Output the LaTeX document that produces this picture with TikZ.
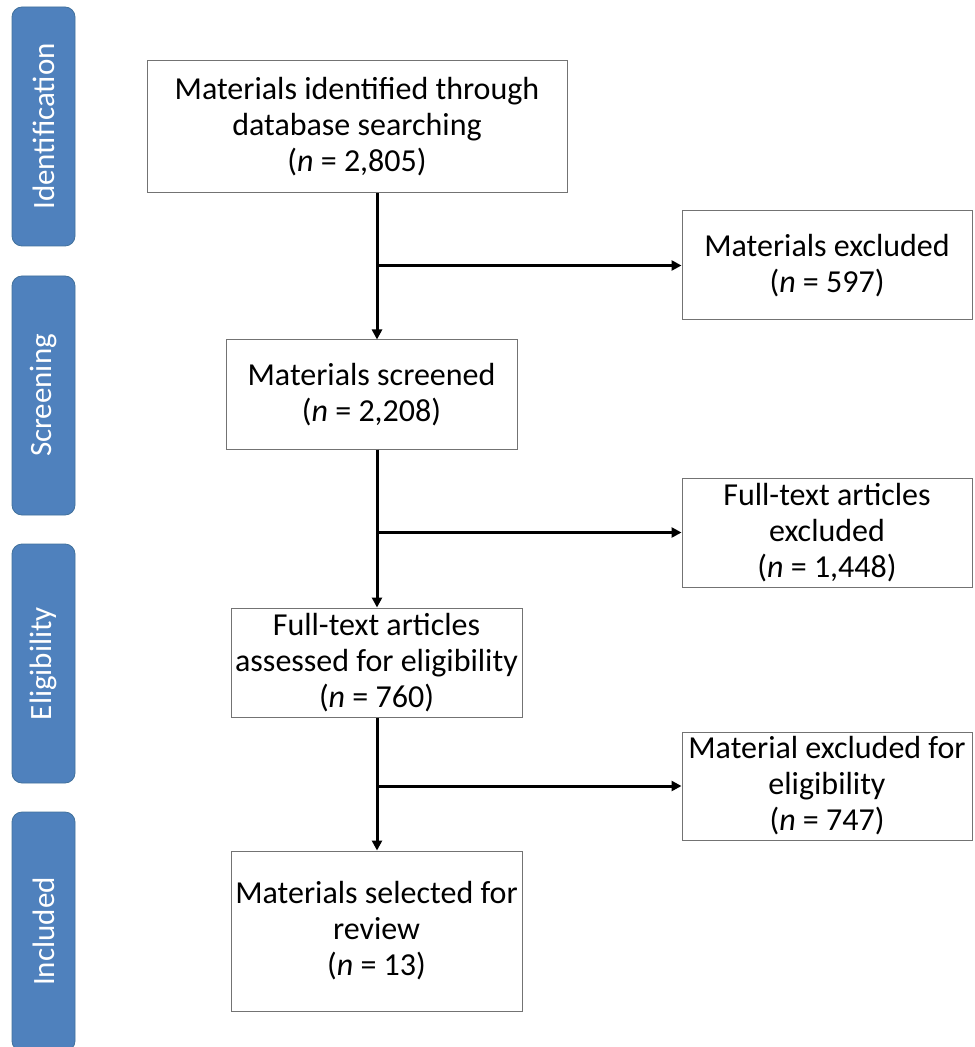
\documentclass[tikz,border=0pt]{standalone}
\usepackage{fontspec}
\setmainfont{Carlito}
\usetikzlibrary{arrows.meta}
\definecolor{stageblue}{HTML}{4F81BD}
\definecolor{stageedge}{HTML}{41719C}
\tikzset{
	stage/.style={draw=stageedge,fill=stageblue,text=white,rounded corners=5pt,rotate=90,
		minimum width=119.5pt,minimum height=31.5pt,inner sep=0pt,font=\fontsize{15.5}{18}\selectfont},
	box/.style={draw=black!55,line width=0.5pt,align=center,inner sep=0pt,
		minimum width=145.5pt,font=\fontsize{16}{18}\selectfont},
	flow/.style={line width=1.5pt,-{Triangle[length=5pt,width=5pt]}}
}
\begin{document}
\begin{tikzpicture}[x=0.5pt,y=-0.5pt]
			\useasboundingbox (0,0) rectangle (974,1047);
			\coordinate (spine) at (377,0);
			% stages
			\node[stage] (ident) at (43.5,126.5) {Identification};
			\node[stage] (screen) at (43.5,395.5) {Screening};
			\node[stage] (elig) at (43.5,663.5) {Eligibility};
			\node[stage] (incl) at (43.5,931.5) {Included};
			% main column
			\node[box,minimum width=210pt,minimum height=66pt] (found) at (357,127) {Materials identified through\\database searching\\(\textit{n} = 2,805)};
			\node[box,minimum height=54.5pt] (screened) at (371.5,394.5) {Materials screened\\(\textit{n} = 2,208)};
			\node[box,minimum height=54.5pt] (assessed) at (376.5,662.5) {Full-text articles\\assessed for eligibility\\(\textit{n} = 760)};
			\node[box,minimum height=80pt] (selected) at (376.5,931) {Materials selected for\\review\\(\textit{n} = 13)};
			% exclusions
			\node[box,minimum width=145pt,minimum height=54.5pt] (out1) at (827,265.5) {Materials excluded\\(\textit{n} = 597)};
			\node[box,minimum width=145pt,minimum height=54.5pt] (out2) at (827,532.5) {Full-text articles\\excluded\\(\textit{n} = 1,448)};
			\node[box,minimum width=145pt,minimum height=54pt] (out3) at (827,786) {Material excluded for\\eligibility\\(\textit{n} = 747)};
			\draw[flow] (found.south -| spine) -- (screened.north -| spine);
			\draw[flow] (screened.south -| spine) -- (assessed.north -| spine);
			\draw[flow] (assessed.south -| spine) -- (selected.north -| spine);
			\draw[flow] (spine |- out1.west) -- (out1.west);
			\draw[flow] (spine |- out2.west) -- (out2.west);
			\draw[flow] (spine |- out3.west) -- (out3.west);
		      \end{tikzpicture}
\end{document}
